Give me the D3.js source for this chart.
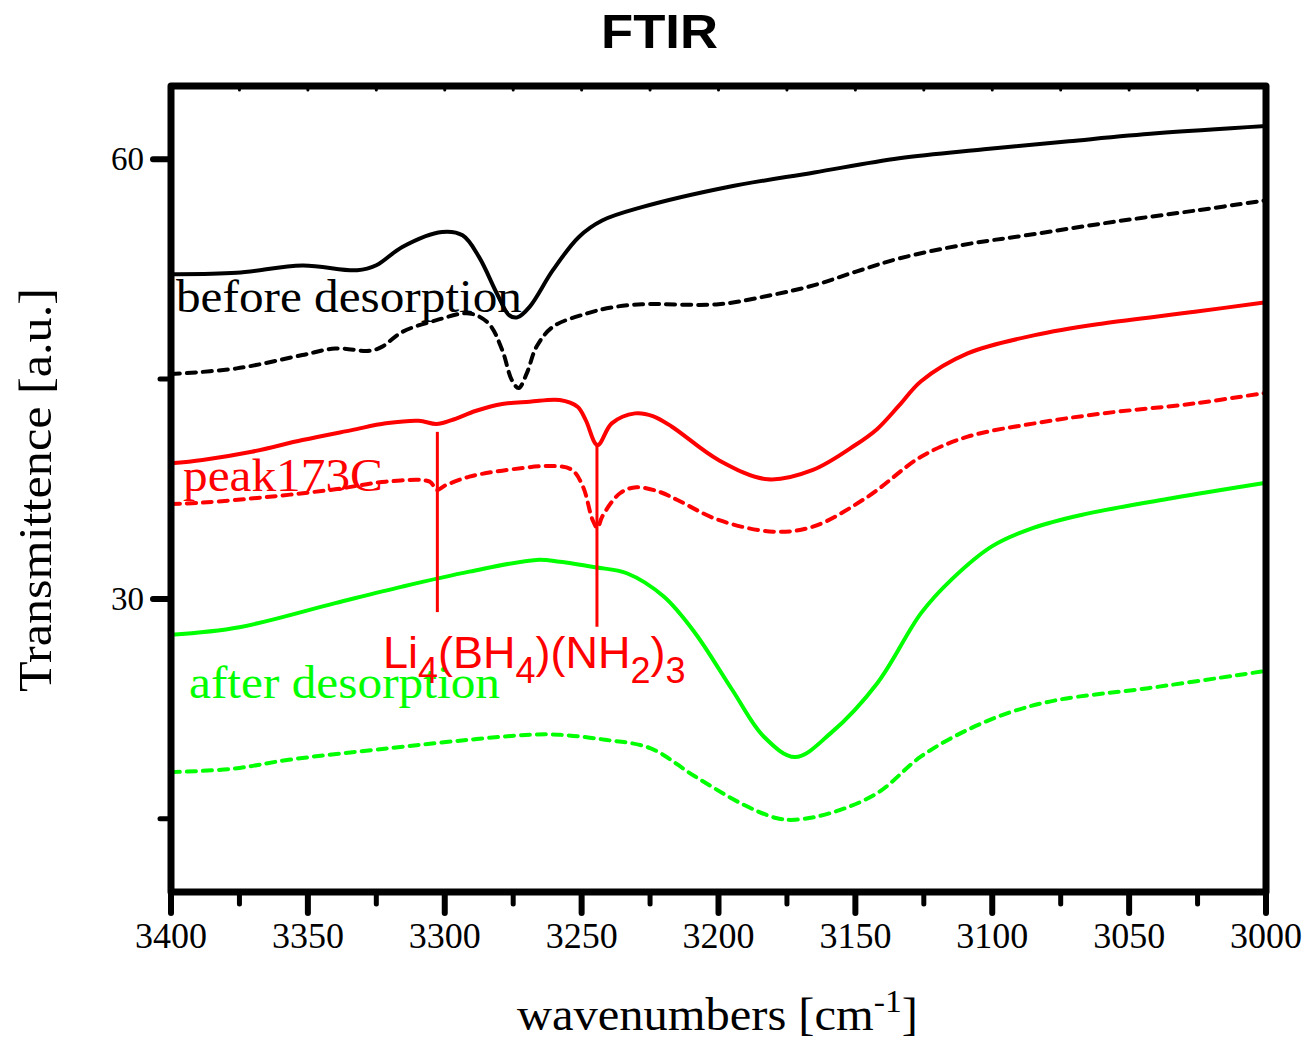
<!DOCTYPE html>
<html>
<head>
<meta charset="utf-8">
<script src="https://cdn.jsdelivr.net/npm/d3@7"></script>
<style>
  html, body { margin: 0; padding: 0; background: #fff; }
  svg { display: block; }
</style>
</head>
<body>
<svg id="chart" width="1311" height="1047"></svg>
<script>
// ---------- DATA ----------
const xTicksMajor = [3400, 3350, 3300, 3250, 3200, 3150, 3100, 3050, 3000];
const xTicksMinor = [3375, 3325, 3275, 3225, 3175, 3125, 3075, 3025];
const yTicksMajor = [60, 30];
const yTicksMinor = [45, 15];

const beforeSolidWn = [3400,3376,3352,3332,3325,3315.5,3301,3293.5,3287.5,3281,3276.5,3273.5,3269,3260.5,3251,3242.5,3228,3197,3165,3134,3103,3072,3040,3000];
const beforeSolidT  = [52.16,52.25,52.75,52.43,52.77,54.02,55.04,54.81,53.34,50.86,49.36,49.21,49.93,52.43,54.70,55.82,56.73,58.09,59.10,60.07,60.68,61.23,61.77,62.27];

const beforeDashWn = [3400,3376,3352,3340,3327.5,3323,3315.5,3303,3291,3284,3279,3275.5,3273,3270,3266.5,3260.5,3248,3239,3228,3200,3181,3165,3150,3134,3111,3087,3056,3025,3000];
const beforeDashT  = [45.34,45.73,46.64,47.09,46.93,47.20,48.22,49.02,49.48,48.80,46.98,44.93,44.39,45.41,47.20,48.57,49.48,49.89,50.11,50.11,50.72,51.41,52.32,53.23,54.15,54.83,55.72,56.52,57.20];

const peakSolidWn = [3400,3388.5,3370.5,3352,3334,3321.5,3309.5,3303,3297.5,3288.5,3279,3269,3258,3251.5,3248.5,3244.2,3239,3230.5,3224,3217,3200,3182,3165.5,3150,3142,3134,3126,3109,3084.5,3059.5,3026,3000];
const peakSolidT  = [39.25,39.48,40.04,40.84,41.52,41.98,42.16,41.93,42.20,42.84,43.30,43.45,43.57,43.11,42.20,40.50,41.98,42.66,42.48,41.75,39.48,38.16,38.80,40.50,41.60,43.20,44.85,46.75,48.00,48.80,49.59,50.25];

const peakDashWn = [3400,3388.5,3364,3340,3321.5,3305.5,3303,3299.5,3291,3279,3260.5,3253.5,3249.5,3246,3244.2,3242.5,3236,3230,3221.5,3215,3200,3180,3165.5,3145.5,3126,3109,3084.5,3059.5,3026,3000];
const peakDashT  = [36.48,36.57,36.97,37.48,38.00,38.00,37.43,37.77,38.34,38.75,39.07,38.80,37.66,35.39,34.84,35.61,37.21,37.62,37.30,36.75,35.39,34.59,34.93,36.97,39.70,41.07,41.98,42.66,43.34,44.07];

const afterSolidWn = [3400,3375,3340,3315.5,3291,3266.5,3258,3245,3233.5,3220,3208.5,3195,3183.5,3172,3159,3142,3126,3115,3100,3085,3067.5,3034.5,3000];
const afterSolidT  = [27.55,28.07,29.71,30.84,31.86,32.66,32.54,32.16,31.75,30.16,27.66,23.80,20.61,19.21,20.84,24.25,29.03,31.30,33.60,34.85,35.73,36.87,37.93];

const afterDashWn = [3400,3377.5,3357,3320,3291,3269,3258,3241.5,3225,3208.5,3192,3179,3172,3159,3142,3126,3109,3092.5,3076,3043,3000];
const afterDashT  = [18.18,18.41,19.02,19.82,20.39,20.73,20.73,20.39,19.82,17.88,16.07,15.05,14.93,15.39,16.75,19.25,21.07,22.32,23.11,23.91,25.09];

const markerWn     = [3302.7, 3244.4];
const markerTop    = [41.4, 40.5];
const markerBottom = [29.1, 28.1];

// ---------- LAYOUT ----------
const svg = d3.select("#chart");
const L = 171, R = 1266, T = 86, B = 892;

const x = d3.scaleLinear().domain([3400, 3000]).range([L, R]);
const y = d3.scaleLinear().domain([10, 65]).range([B, T]);

const serif = "'Liberation Serif', 'Times New Roman', serif";
const sans = "'Liberation Sans', Arial, sans-serif";

// Title
svg.append("text").attr("x", 601).attr("y", 48)
  .attr("font-family", sans).attr("font-weight", "bold").attr("font-size", 48)
  .attr("textLength", 117).attr("lengthAdjust", "spacingAndGlyphs")
  .text("FTIR");

// Series
const series = [
  {wn: beforeSolidWn, t: beforeSolidT, color: "#000000", dash: null},
  {wn: beforeDashWn,  t: beforeDashT,  color: "#000000", dash: "9,7"},
  {wn: peakSolidWn,   t: peakSolidT,   color: "#ff0000", dash: null},
  {wn: peakDashWn,    t: peakDashT,    color: "#ff0000", dash: "9,7"},
  {wn: afterSolidWn,  t: afterSolidT,  color: "#00ff00", dash: null},
  {wn: afterDashWn,   t: afterDashT,   color: "#00ff00", dash: "9,7"}
];

const line = d3.line().x(d => x(d[0])).y(d => y(d[1])).curve(d3.curveCatmullRom.alpha(0.5));

const plotG = svg.append("g");
series.forEach(s => {
  const pts = s.wn.map((w, i) => [w, s.t[i]]);
  plotG.append("path").attr("d", line(pts))
    .attr("fill", "none").attr("stroke", s.color).attr("stroke-width", 4)
    .attr("stroke-linejoin", "round")
    .attr("stroke-linecap", s.dash ? "round" : "butt")
    .attr("stroke-dasharray", s.dash);
});

// Marker lines
markerWn.forEach((w, i) => {
  plotG.append("line").attr("x1", x(w)).attr("x2", x(w))
    .attr("y1", y(markerTop[i])).attr("y2", y(markerBottom[i]))
    .attr("stroke", "#ff0000").attr("stroke-width", 3);
});

// Labels in plot
function label(txt, lx, ly, color, len) {
  svg.append("text").attr("x", lx).attr("y", ly).attr("font-family", serif)
    .attr("font-size", 46).attr("fill", color)
    .attr("textLength", len).attr("lengthAdjust", "spacingAndGlyphs").text(txt);
}
label("before desorption", 176, 312, "#000000", 346);
label("peak173C", 183, 491, "#ff0000", 200);
label("after desorption", 189, 698, "#00ff00", 311);

const chem = svg.append("text").attr("x", 383).attr("y", 668).attr("font-family", sans)
  .attr("font-size", 45).attr("fill", "#ff0000");
const chemParts = [["Li",0],["4",1],["(BH",0],["4",1],[")(NH",0],["2",1],[")",0],["3",1]];
let prevSub = 0;
chemParts.forEach(([t, sub]) => {
  const dy = sub === prevSub ? 0 : (sub ? 15 : -15);
  chem.append("tspan").attr("dy", dy).attr("font-size", sub ? 36 : 45).text(t);
  prevSub = sub;
});

// Frame
svg.append("rect").attr("x", L).attr("y", T).attr("width", R - L).attr("height", B - T)
  .attr("fill", "none").attr("stroke", "#000").attr("stroke-width", 7)
  .attr("stroke-linejoin", "round");

// Ticks
const tickG = svg.append("g").attr("stroke", "#000").attr("stroke-linecap", "round");
xTicksMajor.forEach(v => tickG.append("line").attr("x1", x(v)).attr("x2", x(v))
  .attr("y1", B).attr("y2", B + 21).attr("stroke-width", 6));
xTicksMinor.forEach(v => tickG.append("line").attr("x1", x(v)).attr("x2", x(v))
  .attr("y1", B).attr("y2", B + 12).attr("stroke-width", 5));
xTicksMajor.concat(xTicksMinor).forEach(v => tickG.append("line").attr("x1", x(v)).attr("x2", x(v))
  .attr("y1", T).attr("y2", T + 4).attr("stroke-width", 3));
yTicksMajor.forEach(v => tickG.append("line").attr("x1", L).attr("x2", L - 18)
  .attr("y1", y(v)).attr("y2", y(v)).attr("stroke-width", 6));
yTicksMinor.forEach(v => tickG.append("line").attr("x1", L).attr("x2", L - 11)
  .attr("y1", y(v)).attr("y2", y(v)).attr("stroke-width", 5));

// Tick labels
xTicksMajor.forEach(v => svg.append("text").attr("x", x(v)).attr("y", 948)
  .attr("text-anchor", "middle").attr("font-family", serif).attr("font-size", 36).text(v));
yTicksMajor.forEach(v => svg.append("text").attr("x", 144).attr("y", y(v) + 11)
  .attr("text-anchor", "end").attr("font-family", serif).attr("font-size", 33).text(v));

// Axis titles
const xt = svg.append("text").attr("x", 517).attr("y", 1030)
  .attr("font-family", serif).attr("font-size", 46)
  .attr("textLength", 401).attr("lengthAdjust", "spacingAndGlyphs");
xt.append("tspan").text("wavenumbers [cm");
xt.append("tspan").attr("dy", -18).attr("font-size", 32).text("-1");
xt.append("tspan").attr("dy", 18).text("]");

svg.append("text").attr("transform", "translate(51,692) rotate(-90)")
  .attr("font-family", serif).attr("font-size", 46)
  .attr("textLength", 404).attr("lengthAdjust", "spacingAndGlyphs")
  .text("Transmittence [a.u.]");
</script>
</body>
</html>
